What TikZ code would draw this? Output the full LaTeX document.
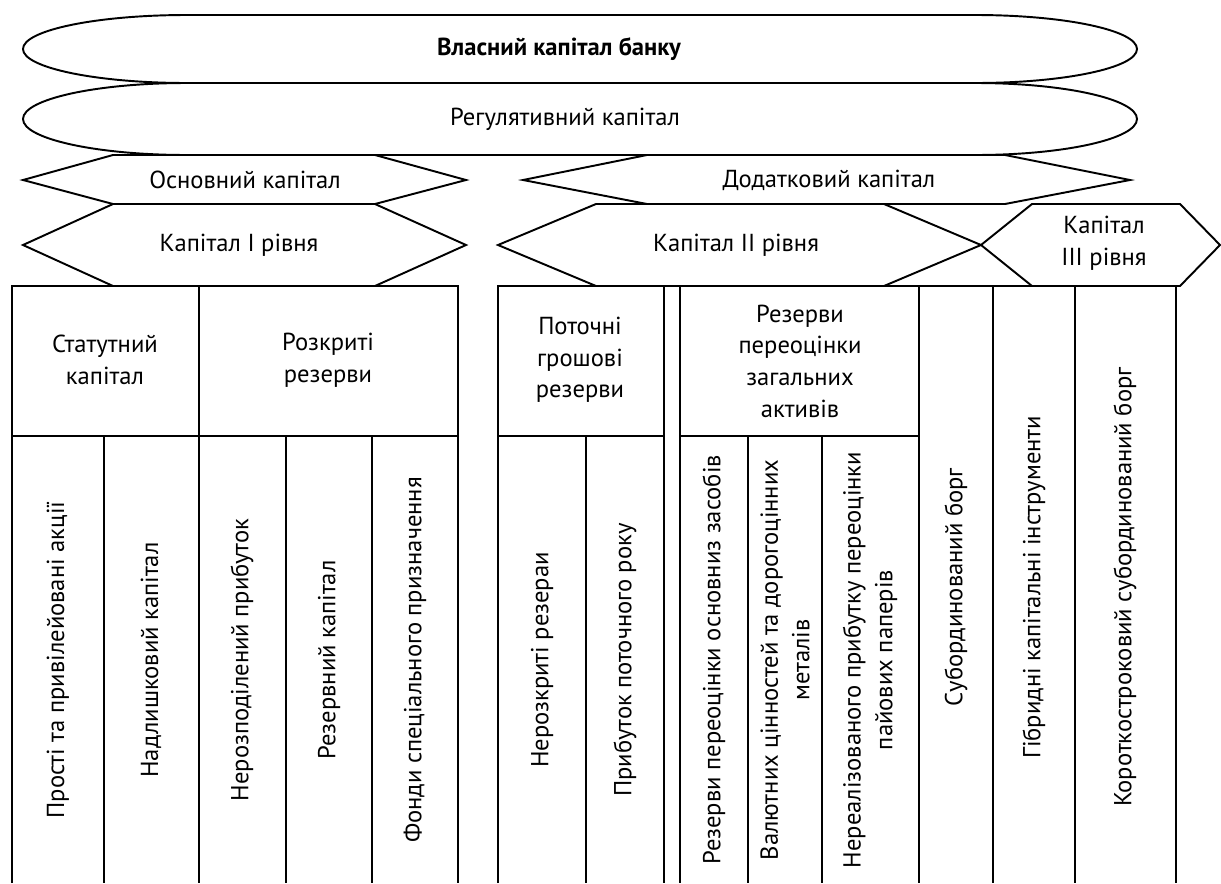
\documentclass[tikz,border=0pt]{standalone}
\usepackage{fontspec}
\setmainfont{PT Sans}

\begin{document}
\begin{tikzpicture}[x=0.02cm, y=-0.02cm, line width=1.1pt,
  every node/.style={font=\fontsize{14}{18}\selectfont, align=center, inner sep=0pt}]
  \useasboundingbox (0,0) rectangle (1221,883);
  % овали
  \draw (187,15)--(975,15) arc[start angle=-90,end angle=90,x radius=162,y radius=34]
        --(187,83) arc[start angle=90,end angle=270,x radius=164,y radius=34]--cycle;
  \draw (187,83)--(975,83) arc[start angle=-90,end angle=90,x radius=162,y radius=36]
        --(187,155) arc[start angle=90,end angle=270,x radius=164,y radius=36]--cycle;
  % шестикутники
  \draw (23,180)--(113,155)--(375,155)--(466,180)--(375,204)--(113,204)--cycle;
  \draw (23,245)--(113,204)--(375,204)--(466,245)--(375,286)--(113,286)--cycle;
  \draw (523,180)--(647,155)--(1005,155)--(1130,180)--(1005,204)--(647,204)--cycle;
  \draw (498,245)--(596,204)--(884,204)--(981,245)--(884,286)--(596,286)--cycle;
  \draw (981,245)--(1032,204)--(1180,204)--(1220,245)--(1180,286)--(1032,286)--cycle;
  % підписи рівнів
  \node (vk) at (559,49) {\bfseries Власний капітал банку};
  \node (rk) at (565,119) {Регулятивний капітал};
  \node (ok) at (245,180) {Основний капітал};
  \node (dk) at (829,180) {Додатковий капітал};
  \node (k1) at (239,245) {Капітал I рівня};
  \node (k2) at (736,245) {Капітал II рівня};
  \node (k3) at (1104,243) {Капітал\\III рівня};
  % таблиця
  \draw (12,883)--(12,286)--(458,286)--(458,883);
  \draw (498,883)--(498,286)--(1176,286)--(1176,883);
  \draw (12,436)--(458,436) (498,436)--(664,436) (680,436)--(919,436);
  \foreach \x in {199,664,680,919,993,1075}{\draw (\x,286)--(\x,883);}
  \foreach \x in {104,286,372,586,748,822}{\draw (\x,436)--(\x,883);}
  % заголовки граф
  \node (st) at (105,360) {Статутний\\капітал};
  \node (rz) at (328,360) {Розкриті\\резерви};
  \node (pg) at (580,360) {Поточні\\грошові\\резерви};
  \node (rp) at (800,361) {Резерви\\переоцінки\\загальних\\активів};
  % вертикальні підписи
  \foreach \x/\nm/\txt in {58/pa/{Прості та привілейовані акції},151/nk/{Надлишковий капітал},
      242/np/{Нерозподілений прибуток},329/rv/{Резервний капітал},415/fs/{Фонди спеціального призначення},
      542/nr/{Нерозкриті резераи},625/pp/{Прибуток поточного року},
      714/ro/{Резерви переоцінки основниз засобів},785/vc/{Валютних цінностей та дорогоцінних\\металів},
      870/np2/{Нереалізованого прибутку переоцінки\\пайових паперів}}{
    \node[rotate=90] (\nm) at (\x,660) {\txt};}
  \foreach \x/\nm/\txt in {956/sb/{Субординований борг},1034/gi/{Гібридні капітальні інструменти},
      1125/ks/{Короткостроковий субординований борг}}{
    \node[rotate=90] (\nm) at (\x,587) {\txt};}
\end{tikzpicture}
\end{document}
